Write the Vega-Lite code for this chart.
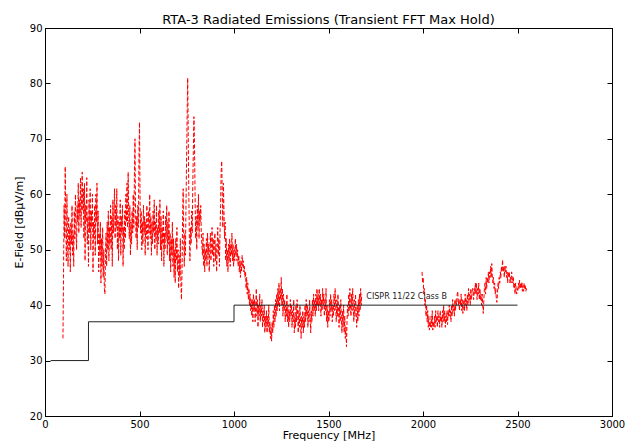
{
  "$schema": "https://vega.github.io/schema/vega-lite/v6.json",
  "width": 567,
  "height": 388,
  "autosize": {"type": "none"},
  "padding": {"left": 45, "top": 28, "right": 28, "bottom": 27},
  "background": "white",
  "title": {"text": "RTA-3 Radiated Emissions (Transient FFT Max Hold)", "font": "DejaVu Sans", "fontSize": 13, "fontWeight": "normal", "color": "black", "offset": -4},
  "config": {
    "view": {"stroke": "black", "strokeWidth": 1},
    "axis": {"grid": false, "domainColor": "black", "tickColor": "black", "labelColor": "black", "titleColor": "black", "labelFont": "DejaVu Sans", "labelFontSize": 10, "titleFont": "DejaVu Sans", "titleFontSize": 11, "titleFontWeight": "normal", "tickSize": -5, "labelPadding": 8, "labelFlush": false}
  },
  "datasets": {
    "seg1": [
      {"f":95,"v":34},{"f":98,"v":45},{"f":101,"v":58},{"f":104,"v":52},{"f":107,"v":65},{"f":110,"v":55},{"f":113,"v":48},{"f":116,"v":60},{"f":119,"v":52},{"f":122,"v":47},{"f":125,"v":56},{"f":128,"v":50},{"f":131,"v":54},{"f":134,"v":46},{"f":137,"v":55},{"f":140,"v":51},{"f":143,"v":58},{"f":146,"v":49},{"f":149,"v":53},{"f":152,"v":47},{"f":155,"v":57},{"f":158,"v":52},{"f":161,"v":60},{"f":164,"v":54},{"f":167,"v":50},{"f":170,"v":58},{"f":173,"v":55},{"f":176,"v":62},{"f":179,"v":53},{"f":182,"v":59},{"f":185,"v":56},{"f":188,"v":63},{"f":191,"v":54},{"f":194,"v":60},{"f":197,"v":64},{"f":200,"v":57},{"f":203,"v":61},{"f":206,"v":52},{"f":209,"v":62},{"f":212,"v":48},{"f":215,"v":58},{"f":218,"v":55},{"f":221,"v":63},{"f":224,"v":51},{"f":227,"v":56},{"f":230,"v":47},{"f":233,"v":59},{"f":236,"v":53},{"f":239,"v":61},{"f":242,"v":50},{"f":245,"v":57},{"f":248,"v":54},{"f":251,"v":60},{"f":254,"v":46},{"f":257,"v":55},{"f":260,"v":52},{"f":263,"v":58},{"f":266,"v":49},{"f":269,"v":60},{"f":272,"v":55},{"f":275,"v":62},{"f":278,"v":51},{"f":281,"v":57},{"f":284,"v":46},{"f":287,"v":53},{"f":290,"v":49},{"f":293,"v":55},{"f":296,"v":44},{"f":299,"v":52},{"f":302,"v":47},{"f":305,"v":54},{"f":308,"v":45},{"f":311,"v":50},{"f":314,"v":43},{"f":317,"v":42},{"f":320,"v":49},{"f":323,"v":53},{"f":326,"v":47},{"f":329,"v":55},{"f":332,"v":50},{"f":335,"v":57},{"f":338,"v":48},{"f":341,"v":54},{"f":344,"v":51},{"f":347,"v":58},{"f":350,"v":50},{"f":353,"v":56},{"f":356,"v":47},{"f":359,"v":59},{"f":362,"v":53},{"f":365,"v":57},{"f":368,"v":61},{"f":371,"v":52},{"f":374,"v":58},{"f":377,"v":54},{"f":380,"v":61},{"f":383,"v":50},{"f":386,"v":56},{"f":389,"v":48},{"f":392,"v":55},{"f":395,"v":52},{"f":398,"v":59},{"f":401,"v":49},{"f":404,"v":56},{"f":407,"v":53},{"f":410,"v":58},{"f":413,"v":47},{"f":416,"v":54},{"f":419,"v":50},{"f":422,"v":57},{"f":425,"v":52},{"f":428,"v":60},{"f":431,"v":55},{"f":434,"v":62},{"f":437,"v":54},{"f":440,"v":64},{"f":443,"v":56},{"f":446,"v":52},{"f":449,"v":58},{"f":452,"v":49},{"f":455,"v":55},{"f":458,"v":51},{"f":461,"v":57},{"f":464,"v":53},{"f":467,"v":60},{"f":470,"v":54},{"f":473,"v":63},{"f":476,"v":70},{"f":479,"v":57},{"f":482,"v":52},{"f":485,"v":56},{"f":488,"v":50},{"f":491,"v":58},{"f":494,"v":54},{"f":497,"v":66},{"f":500,"v":73},{"f":503,"v":59},{"f":506,"v":53},{"f":509,"v":57},{"f":512,"v":50},{"f":515,"v":55},{"f":518,"v":51},{"f":521,"v":58},{"f":524,"v":53},{"f":527,"v":56},{"f":530,"v":49},{"f":533,"v":55},{"f":536,"v":52},{"f":539,"v":58},{"f":542,"v":54},{"f":545,"v":50},{"f":548,"v":57},{"f":551,"v":53},{"f":554,"v":60},{"f":557,"v":52},{"f":560,"v":56},{"f":563,"v":49},{"f":566,"v":55},{"f":569,"v":51},{"f":572,"v":57},{"f":575,"v":53},{"f":578,"v":59},{"f":581,"v":50},{"f":584,"v":55},{"f":587,"v":52},{"f":590,"v":58},{"f":593,"v":49},{"f":596,"v":54},{"f":599,"v":51},{"f":602,"v":57},{"f":605,"v":53},{"f":608,"v":59},{"f":611,"v":50},{"f":614,"v":56},{"f":617,"v":48},{"f":620,"v":54},{"f":623,"v":51},{"f":626,"v":57},{"f":629,"v":47},{"f":632,"v":53},{"f":635,"v":50},{"f":638,"v":56},{"f":641,"v":52},{"f":644,"v":58},{"f":647,"v":49},{"f":650,"v":55},{"f":653,"v":51},{"f":656,"v":57},{"f":659,"v":48},{"f":662,"v":53},{"f":665,"v":46},{"f":668,"v":52},{"f":671,"v":49},{"f":674,"v":55},{"f":677,"v":47},{"f":680,"v":52},{"f":683,"v":45},{"f":686,"v":50},{"f":689,"v":44},{"f":692,"v":52},{"f":695,"v":48},{"f":698,"v":54},{"f":701,"v":46},{"f":704,"v":50},{"f":707,"v":43},{"f":710,"v":49},{"f":713,"v":45},{"f":716,"v":52},{"f":719,"v":44},{"f":722,"v":41},{"f":725,"v":46},{"f":728,"v":55},{"f":731,"v":61},{"f":734,"v":52},{"f":737,"v":47},{"f":740,"v":53},{"f":743,"v":49},{"f":746,"v":58},{"f":749,"v":66},{"f":752,"v":74},{"f":755,"v":81},{"f":758,"v":70},{"f":761,"v":60},{"f":764,"v":52},{"f":767,"v":48},{"f":770,"v":54},{"f":773,"v":51},{"f":776,"v":57},{"f":779,"v":53},{"f":782,"v":62},{"f":785,"v":68},{"f":788,"v":74},{"f":791,"v":69},{"f":794,"v":60},{"f":797,"v":52},{"f":800,"v":56},{"f":803,"v":50},{"f":806,"v":58},{"f":809,"v":54},{"f":812,"v":60},{"f":815,"v":52},{"f":818,"v":57},{"f":821,"v":55},{"f":824,"v":58},{"f":827,"v":53},{"f":830,"v":51},{"f":833,"v":49},{"f":836,"v":53},{"f":839,"v":47},{"f":842,"v":51},{"f":845,"v":46},{"f":848,"v":50},{"f":851,"v":48},{"f":854,"v":52},{"f":857,"v":47},{"f":860,"v":53},{"f":863,"v":49},{"f":866,"v":51},{"f":869,"v":46},{"f":872,"v":50},{"f":875,"v":53},{"f":878,"v":48},{"f":881,"v":51},{"f":884,"v":54},{"f":887,"v":49},{"f":890,"v":52},{"f":893,"v":47},{"f":896,"v":51},{"f":899,"v":53},{"f":902,"v":48},{"f":905,"v":51},{"f":908,"v":46},{"f":911,"v":50},{"f":914,"v":54},{"f":917,"v":49},{"f":920,"v":52},{"f":923,"v":47},{"f":926,"v":53},{"f":929,"v":58},{"f":932,"v":64},{"f":935,"v":66},{"f":938,"v":60},{"f":941,"v":54},{"f":944,"v":62},{"f":947,"v":57},{"f":950,"v":52},{"f":953,"v":55},{"f":956,"v":48},{"f":959,"v":52},{"f":962,"v":47},{"f":965,"v":50},{"f":968,"v":46},{"f":971,"v":51},{"f":974,"v":48},{"f":977,"v":52},{"f":980,"v":47},{"f":983,"v":51},{"f":986,"v":49},{"f":989,"v":53},{"f":992,"v":48},{"f":995,"v":51},{"f":998,"v":47},{"f":1001,"v":50},{"f":1004,"v":48},{"f":1007,"v":52},{"f":1010,"v":49},{"f":1013,"v":51},{"f":1016,"v":48},{"f":1019,"v":50},{"f":1022,"v":47},{"f":1025,"v":49},{"f":1028,"v":46},{"f":1031,"v":48},{"f":1034,"v":45},{"f":1037,"v":48},{"f":1040,"v":46},{"f":1043,"v":49},{"f":1046,"v":47},{"f":1049,"v":48},{"f":1052,"v":46},{"f":1055,"v":47},{"f":1058,"v":45},{"f":1061,"v":46},{"f":1064,"v":43},{"f":1067,"v":45},{"f":1070,"v":42},{"f":1073,"v":44},{"f":1076,"v":41},{"f":1079,"v":43},{"f":1082,"v":40},{"f":1085,"v":42},{"f":1088,"v":39},{"f":1091,"v":41},{"f":1094,"v":38},{"f":1097,"v":41},{"f":1100,"v":37},
      {"f":1103,"v":42},{"f":1106,"v":39},{"f":1109,"v":41},{"f":1112,"v":37},{"f":1115,"v":40},{"f":1118,"v":43},{"f":1121,"v":38},{"f":1124,"v":41},{"f":1127,"v":36},{"f":1130,"v":40},{"f":1133,"v":38},{"f":1136,"v":42},{"f":1139,"v":37},{"f":1142,"v":40},{"f":1145,"v":38},{"f":1148,"v":41},{"f":1151,"v":36},{"f":1154,"v":39},{"f":1157,"v":37},{"f":1160,"v":40},{"f":1163,"v":35},{"f":1166,"v":38},{"f":1169,"v":36},{"f":1172,"v":39},{"f":1175,"v":35},{"f":1178,"v":38},{"f":1181,"v":36},{"f":1184,"v":40},{"f":1187,"v":35},{"f":1190,"v":37},{"f":1193,"v":34},{"f":1196,"v":36},{"f":1199,"v":33.5},{"f":1202,"v":37},{"f":1205,"v":35},{"f":1208,"v":39},{"f":1211,"v":36},{"f":1214,"v":40},{"f":1217,"v":37},{"f":1220,"v":41},{"f":1223,"v":38},{"f":1226,"v":42},{"f":1229,"v":39},{"f":1232,"v":43},{"f":1235,"v":40},{"f":1238,"v":44},{"f":1241,"v":39},{"f":1244,"v":43},{"f":1247,"v":41},{"f":1250,"v":45},{"f":1253,"v":40},{"f":1256,"v":43},{"f":1259,"v":38},{"f":1262,"v":42},{"f":1265,"v":39},{"f":1268,"v":41},{"f":1271,"v":37},{"f":1274,"v":40},{"f":1277,"v":38},{"f":1280,"v":42},{"f":1283,"v":37},{"f":1286,"v":40},{"f":1289,"v":36},{"f":1292,"v":39},{"f":1295,"v":37},{"f":1298,"v":41},{"f":1301,"v":38},{"f":1304,"v":40},{"f":1307,"v":36},{"f":1310,"v":39},{"f":1313,"v":37},{"f":1316,"v":41},{"f":1319,"v":35},{"f":1322,"v":38},{"f":1325,"v":36},{"f":1328,"v":40},{"f":1331,"v":37},{"f":1334,"v":41},{"f":1337,"v":38},{"f":1340,"v":35},{"f":1343,"v":39},{"f":1346,"v":36},{"f":1349,"v":40},{"f":1352,"v":37},{"f":1355,"v":34},{"f":1358,"v":38},{"f":1361,"v":36},{"f":1364,"v":39},{"f":1367,"v":35},{"f":1370,"v":38},{"f":1373,"v":36},{"f":1376,"v":40},{"f":1379,"v":37},{"f":1382,"v":41},{"f":1385,"v":38},{"f":1388,"v":40},{"f":1391,"v":36},{"f":1394,"v":39},{"f":1397,"v":37},{"f":1400,"v":41},{"f":1403,"v":38},{"f":1406,"v":35},{"f":1409,"v":39},{"f":1412,"v":37},{"f":1415,"v":41},{"f":1418,"v":38},{"f":1421,"v":42},{"f":1424,"v":39},{"f":1427,"v":41},{"f":1430,"v":38},{"f":1433,"v":42},{"f":1436,"v":39},{"f":1439,"v":43},{"f":1442,"v":40},{"f":1445,"v":42},{"f":1448,"v":39},{"f":1451,"v":43},{"f":1454,"v":40},{"f":1457,"v":42},{"f":1460,"v":38},{"f":1463,"v":41},{"f":1466,"v":39},{"f":1469,"v":43},{"f":1472,"v":40},{"f":1475,"v":42},{"f":1478,"v":38},{"f":1481,"v":41},{"f":1484,"v":39},{"f":1487,"v":43},{"f":1490,"v":37},{"f":1493,"v":40},{"f":1496,"v":36},{"f":1499,"v":39},{"f":1502,"v":37},{"f":1505,"v":41},{"f":1508,"v":38},{"f":1511,"v":42},{"f":1514,"v":39},{"f":1517,"v":41},{"f":1520,"v":37},{"f":1523,"v":40},{"f":1526,"v":38},{"f":1529,"v":42},{"f":1532,"v":39},{"f":1535,"v":43},{"f":1538,"v":40},{"f":1541,"v":37},{"f":1544,"v":41},{"f":1547,"v":38},{"f":1550,"v":42},{"f":1553,"v":39},{"f":1556,"v":36},{"f":1559,"v":40},{"f":1562,"v":37},{"f":1565,"v":41},{"f":1568,"v":38},{"f":1571,"v":35},{"f":1574,"v":39},{"f":1577,"v":36},{"f":1580,"v":40},{"f":1583,"v":35},{"f":1586,"v":38},{"f":1589,"v":34},{"f":1592,"v":36},{"f":1595,"v":32.5},{"f":1598,"v":37},{"f":1601,"v":40},{"f":1604,"v":38},{"f":1607,"v":42},{"f":1610,"v":39},{"f":1613,"v":43},{"f":1616,"v":40},{"f":1619,"v":38},{"f":1622,"v":42},{"f":1625,"v":39},{"f":1628,"v":43},{"f":1631,"v":40},{"f":1634,"v":37},{"f":1637,"v":41},{"f":1640,"v":38},{"f":1643,"v":42},{"f":1646,"v":39},{"f":1649,"v":36},{"f":1652,"v":40},{"f":1655,"v":37},{"f":1658,"v":41},{"f":1661,"v":38},{"f":1664,"v":42},{"f":1667,"v":39},{"f":1670,"v":43},{"f":1673,"v":40},{"f":1676,"v":42}
    ],
    "seg2": [
      {"f":1995,"v":46},{"f":1998,"v":44},{"f":2001,"v":45},{"f":2004,"v":42},{"f":2007,"v":43},{"f":2010,"v":40},{"f":2013,"v":41},{"f":2016,"v":38},{"f":2019,"v":40},{"f":2022,"v":37},{"f":2025,"v":39},{"f":2028,"v":36},{"f":2031,"v":38},{"f":2034,"v":35.5},{"f":2037,"v":37},{"f":2040,"v":36},{"f":2043,"v":38},{"f":2046,"v":36},{"f":2049,"v":39},{"f":2052,"v":35.5},{"f":2055,"v":37},{"f":2058,"v":36},{"f":2061,"v":38},{"f":2064,"v":36},{"f":2067,"v":39},{"f":2070,"v":37},{"f":2073,"v":38},{"f":2076,"v":36},{"f":2079,"v":39},{"f":2082,"v":37},{"f":2085,"v":38},{"f":2088,"v":36},{"f":2091,"v":39},{"f":2094,"v":37},{"f":2097,"v":38},{"f":2100,"v":36},{"f":2103,"v":39},{"f":2106,"v":37},{"f":2109,"v":40},{"f":2112,"v":37},{"f":2115,"v":39},{"f":2118,"v":36},{"f":2121,"v":38},{"f":2124,"v":37},{"f":2127,"v":39},{"f":2130,"v":36.5},{"f":2133,"v":39},{"f":2136,"v":38},{"f":2139,"v":40},{"f":2142,"v":38},{"f":2145,"v":39},{"f":2148,"v":37},{"f":2151,"v":40},{"f":2154,"v":38},{"f":2157,"v":41},{"f":2160,"v":39},{"f":2163,"v":40},{"f":2166,"v":38},{"f":2169,"v":41},{"f":2172,"v":39},{"f":2175,"v":41},{"f":2178,"v":40},{"f":2181,"v":42},{"f":2184,"v":42.5},{"f":2187,"v":40},{"f":2190,"v":41},{"f":2193,"v":39},{"f":2196,"v":41},{"f":2199,"v":40},{"f":2202,"v":42},{"f":2205,"v":39},{"f":2208,"v":41},{"f":2211,"v":38.5},{"f":2214,"v":40},{"f":2217,"v":41},{"f":2220,"v":39},{"f":2223,"v":42},{"f":2226,"v":40},{"f":2229,"v":41},{"f":2232,"v":39},{"f":2235,"v":42},{"f":2238,"v":40},{"f":2241,"v":43},{"f":2244,"v":41},{"f":2247,"v":42},{"f":2250,"v":40},{"f":2253,"v":43},{"f":2256,"v":41},{"f":2259,"v":42},{"f":2262,"v":43},{"f":2265,"v":42.5},{"f":2268,"v":41},{"f":2271,"v":43},{"f":2274,"v":42},{"f":2277,"v":44},{"f":2280,"v":42},{"f":2283,"v":44},{"f":2286,"v":41},{"f":2289,"v":43},{"f":2292,"v":42},{"f":2295,"v":44},{"f":2298,"v":41},{"f":2301,"v":43},{"f":2304,"v":41},{"f":2307,"v":42},{"f":2310,"v":40},{"f":2313,"v":42},{"f":2316,"v":40},{"f":2319,"v":38.5},{"f":2322,"v":41},{"f":2325,"v":43},{"f":2328,"v":44},{"f":2331,"v":42},{"f":2334,"v":45},{"f":2337,"v":43},{"f":2340,"v":45},{"f":2343,"v":44},{"f":2346,"v":46},{"f":2349,"v":44},{"f":2352,"v":46},{"f":2355,"v":45},{"f":2358,"v":47},{"f":2361,"v":45},{"f":2364,"v":47.5},{"f":2367,"v":45},{"f":2370,"v":44},{"f":2373,"v":45},{"f":2376,"v":43},{"f":2379,"v":44},{"f":2382,"v":42},{"f":2385,"v":43},{"f":2388,"v":41},{"f":2391,"v":40.5},{"f":2394,"v":42},{"f":2397,"v":44},{"f":2400,"v":43},{"f":2403,"v":45},{"f":2406,"v":44},{"f":2409,"v":46},{"f":2412,"v":45},{"f":2415,"v":47},{"f":2418,"v":46},{"f":2421,"v":48.2},{"f":2424,"v":46},{"f":2427,"v":47},{"f":2430,"v":45},{"f":2433,"v":47},{"f":2436,"v":46},{"f":2439,"v":47},{"f":2442,"v":45},{"f":2445,"v":46},{"f":2448,"v":44},{"f":2451,"v":46},{"f":2454,"v":45},{"f":2457,"v":46},{"f":2460,"v":44},{"f":2463,"v":45},{"f":2466,"v":44},{"f":2469,"v":46},{"f":2472,"v":45},{"f":2475,"v":44},{"f":2478,"v":45},{"f":2481,"v":43},{"f":2484,"v":44},{"f":2487,"v":42},{"f":2490,"v":44},{"f":2493,"v":43},{"f":2496,"v":42},{"f":2499,"v":43},{"f":2502,"v":42.5},{"f":2505,"v":44},{"f":2508,"v":43},{"f":2511,"v":44.5},{"f":2514,"v":43},{"f":2517,"v":44},{"f":2520,"v":43},{"f":2523,"v":44.2},{"f":2526,"v":42.5},{"f":2529,"v":43.5},{"f":2532,"v":42.5},{"f":2535,"v":44},{"f":2538,"v":43},{"f":2541,"v":43.5},{"f":2544,"v":42.5},{"f":2547,"v":43},{"f":2550,"v":42.5}
    ],
    "limit": [
      {"f":30,"v":30},{"f":230,"v":37},{"f":1000,"v":40},{"f":2500,"v":40}
    ],
    "label": [
      {"f":1700,"v":41.4,"t":"CISPR 11/22 Class B"}
    ]
  },
  "resolve": {"axis": {"x": "independent", "y": "independent"}},
  "layer": [
    {
      "data": {"name": "seg1"},
      "mark": {"type": "line", "color": "#ff0000", "strokeWidth": 1, "strokeDash": [4, 2]},
      "encoding": {
        "x": {"field": "f", "type": "quantitative", "scale": {"domain": [0, 3000], "nice": false}, "axis": {"title": "Frequency [MHz]", "values": [0, 500, 1000, 1500, 2000, 2500, 3000], "format": "d", "titlePadding": 0}},
        "y": {"field": "v", "type": "quantitative", "scale": {"domain": [20, 90], "nice": false, "zero": false}, "axis": {"title": "E-Field [dBμV/m]", "values": [20, 30, 40, 50, 60, 70, 80, 90], "titlePadding": 5}}
      }
    },
    {
      "data": {"name": "seg2"},
      "mark": {"type": "line", "color": "#ff0000", "strokeWidth": 1, "strokeDash": [4, 2]},
      "encoding": {
        "x": {"field": "f", "type": "quantitative", "axis": null},
        "y": {"field": "v", "type": "quantitative", "axis": null}
      }
    },
    {
      "data": {"name": "limit"},
      "mark": {"type": "line", "color": "#222222", "strokeWidth": 1, "interpolate": "step-after"},
      "encoding": {
        "x": {"field": "f", "type": "quantitative", "axis": {"orient": "top", "labels": false, "title": null, "values": [0, 500, 1000, 1500, 2000, 2500, 3000]}},
        "y": {"field": "v", "type": "quantitative", "axis": {"orient": "right", "labels": false, "title": null, "values": [20, 30, 40, 50, 60, 70, 80, 90]}}
      }
    },
    {
      "data": {"name": "label"},
      "mark": {"type": "text", "align": "left", "baseline": "middle", "font": "DejaVu Sans", "fontSize": 8, "color": "#222222"},
      "encoding": {
        "x": {"field": "f", "type": "quantitative", "axis": null},
        "y": {"field": "v", "type": "quantitative", "axis": null},
        "text": {"field": "t"}
      }
    }
  ]
}
